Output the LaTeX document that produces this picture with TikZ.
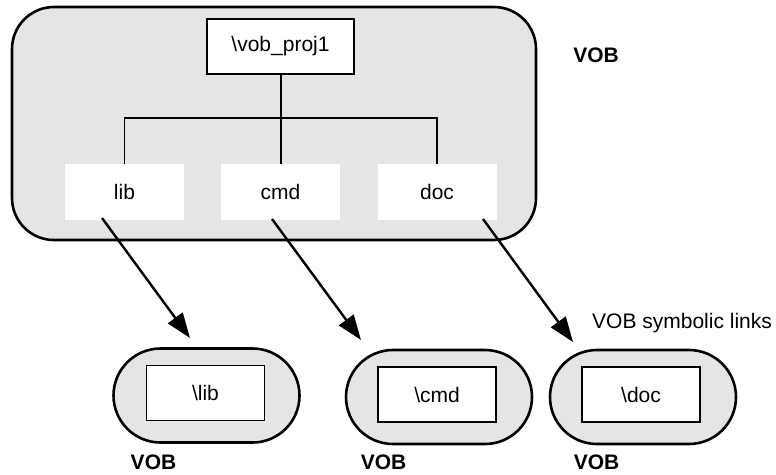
\documentclass[tikz,border=0pt]{standalone}
\usepackage{fontspec}
\setmainfont{Liberation Sans}
\usetikzlibrary{arrows.meta,shapes.misc}
\begin{document}
\begin{tikzpicture}[x=1pt,y=-1pt,
  every node/.style={font=\fontsize{21}{25}\selectfont},
  vobarea/.style={draw=black, line width=2.6pt, fill=black!10, rounded corners=42pt,
    minimum width=524pt, minimum height=233pt, inner sep=0pt},
  rootbox/.style={draw=black, line width=1.3pt, fill=white, minimum width=147pt,
    minimum height=55pt, inner sep=0pt},
  dirbox/.style={fill=white, minimum width=119pt, minimum height=56pt, inner sep=0pt},
  stadium/.style={rounded rectangle, draw=black, line width=2.6pt, fill=black!10,
    minimum width=186pt, minimum height=94pt, inner sep=0pt},
  innerbox/.style={draw=black, line width=1.3pt, fill=white, minimum width=118pt,
    minimum height=55pt, inner sep=0pt},
  boldlabel/.style={font=\fontsize{21}{25}\selectfont\bfseries, inner sep=0pt},
  plainlabel/.style={inner sep=0pt},
  tree/.style={line width=1.3pt},
  link/.style={line width=2.4pt, -{Triangle[length=25pt,width=18pt]}}
]
\useasboundingbox (0,0) rectangle (776,474);

% main VOB
\node[vobarea] (main) at (274,123.5) {};
\node[rootbox] (root) at (280.5,46.5) {\textbackslash vob\_proj1};
\node[dirbox] (lib) at (124.5,192) {lib};
\node[dirbox] (cmd) at (280.5,192) {cmd};
\node[dirbox] (doc) at (437,192) {doc};

\coordinate (fork) at (281,118);
\draw[tree] (root.south -| fork) -- (cmd.north -| fork);
\draw[tree] (lib.north) |- (fork) -| (doc.north);

\node[boldlabel] (vobtop) at (596,55) {VOB};

% target VOBs
\node[stadium] (vlib) at (206.5,395.5) {};
\node[innerbox] (blib) at (205.5,393) {\textbackslash lib};
\node[stadium] (vcmd) at (439,397) {};
\node[innerbox] (bcmd) at (437,394.5) {\textbackslash cmd};
\node[stadium] (vdoc) at (643,397) {};
\node[innerbox] (bdoc) at (641,394.5) {\textbackslash doc};

\node[boldlabel] (voblib) at (153.5,462) {VOB};
\node[boldlabel] (vobcmd) at (383.5,462) {VOB};
\node[boldlabel] (vobdoc) at (596.5,462) {VOB};

\node[plainlabel, anchor=west] (symlinks) at (592,323) {VOB symbolic links};

% links
\coordinate (libs) at (102,218);
\coordinate (libt) at (190,338);
\coordinate (cmds) at (272,219);
\coordinate (cmdt) at (361,340);
\coordinate (docs) at (483,219);
\coordinate (doct) at (573,342);
\draw[link] (libs) -- (libt);
\draw[link] (cmds) -- (cmdt);
\draw[link] (docs) -- (doct);
\end{tikzpicture}
\end{document}
